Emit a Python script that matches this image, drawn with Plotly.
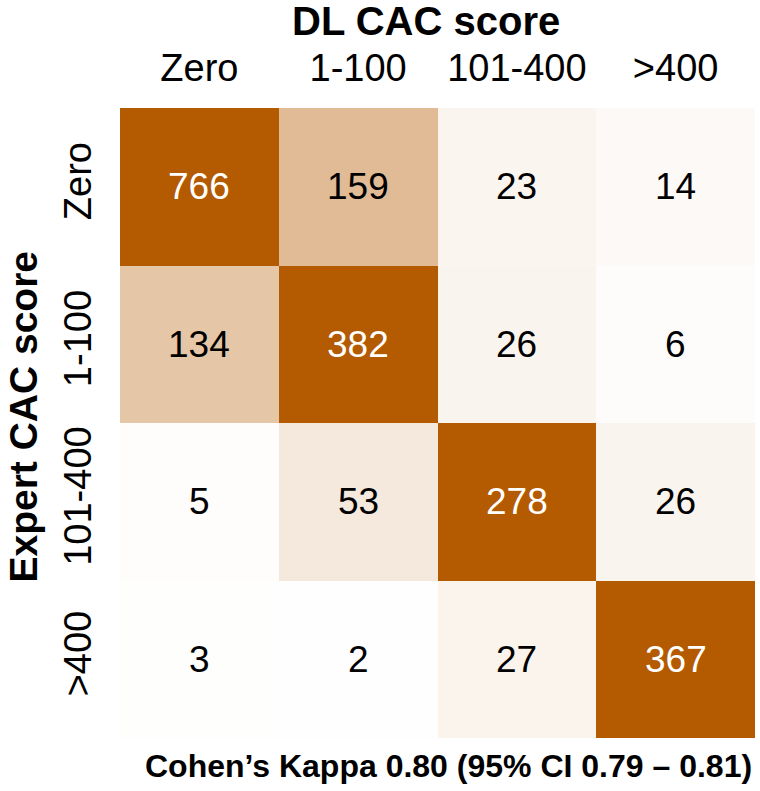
import plotly.graph_objects as go

# Data
dl_categories = ["Zero", "1-100", "101-400", ">400"]        # columns (DL CAC score)
expert_categories = ["Zero", "1-100", "101-400", ">400"]    # rows (Expert CAC score)
counts = [
    [766, 159, 23, 14],
    [134, 382, 26, 6],
    [5, 53, 278, 26],
    [3, 2, 27, 367],
]
kappa_text = "Cohen\u2019s Kappa 0.80 (95% CI 0.79 \u2013 0.81)"

FONT = "Arial, Liberation Sans, Helvetica, sans-serif"
DARK = "#B45A00"

zmax = max(max(r) for r in counts)
colorscale = [
    [0.0, "#FFFFFF"],
    [160 / zmax, "#E0BB95"],
    [0.33, DARK],
    [1.0, DARK],
]

fig = go.Figure(
    go.Heatmap(
        z=counts,
        x=dl_categories,
        y=expert_categories,
        colorscale=colorscale,
        zmin=0,
        zmax=zmax,
        showscale=False,
        hoverinfo="skip",
        xgap=0,
        ygap=0,
    )
)

annotations = []
for i, row_name in enumerate(expert_categories):
    for j, col_name in enumerate(dl_categories):
        v = counts[i][j]
        annotations.append(
            dict(
                x=col_name,
                y=row_name,
                text=str(v),
                showarrow=False,
                xanchor="center",
                yanchor="middle",
                font=dict(family=FONT, size=37, color="white" if i == j else "black"),
            )
        )

annotations += [
    dict(
        text="<b>DL CAC score</b>",
        xref="paper", yref="paper",
        x=0.482, y=1.138,
        xanchor="center", yanchor="middle",
        showarrow=False,
        font=dict(family=FONT, size=40, color="black"),
    ),
    dict(
        text="<b>Expert CAC score</b>",
        xref="paper", yref="paper",
        x=-0.152, y=0.511,
        xanchor="center", yanchor="middle",
        textangle=-90,
        showarrow=False,
        font=dict(family=FONT, size=39, color="black"),
    ),
    dict(
        text="<b>" + kappa_text + "</b>",
        xref="paper", yref="paper",
        x=0.517, y=-0.045,
        xanchor="center", yanchor="middle",
        showarrow=False,
        font=dict(family=FONT, size=32, color="black"),
    ),
]

fig.update_layout(
    width=760,
    height=791,
    margin=dict(l=120, r=5, t=108, b=53, autoexpand=False),
    paper_bgcolor="white",
    plot_bgcolor="white",
    annotations=annotations,
    xaxis=dict(
        side="top",
        automargin=False,
        showgrid=False,
        zeroline=False,
        showline=False,
        ticks="outside",
        ticklen=11,
        tickcolor="rgba(0,0,0,0)",
        tickfont=dict(family=FONT, size=38, color="black"),
    ),
    yaxis=dict(
        autorange="reversed",
        automargin=False,
        showgrid=False,
        zeroline=False,
        showline=False,
        ticks="outside",
        ticklen=13,
        tickcolor="rgba(0,0,0,0)",
        tickangle=-90,
        tickfont=dict(family=FONT, size=38, color="black"),
    ),
)

fig.write_html(
    "out.html",
    config={"displayModeBar": False},
    post_script="document.body.style.margin='0';document.body.style.overflow='hidden';",
)
